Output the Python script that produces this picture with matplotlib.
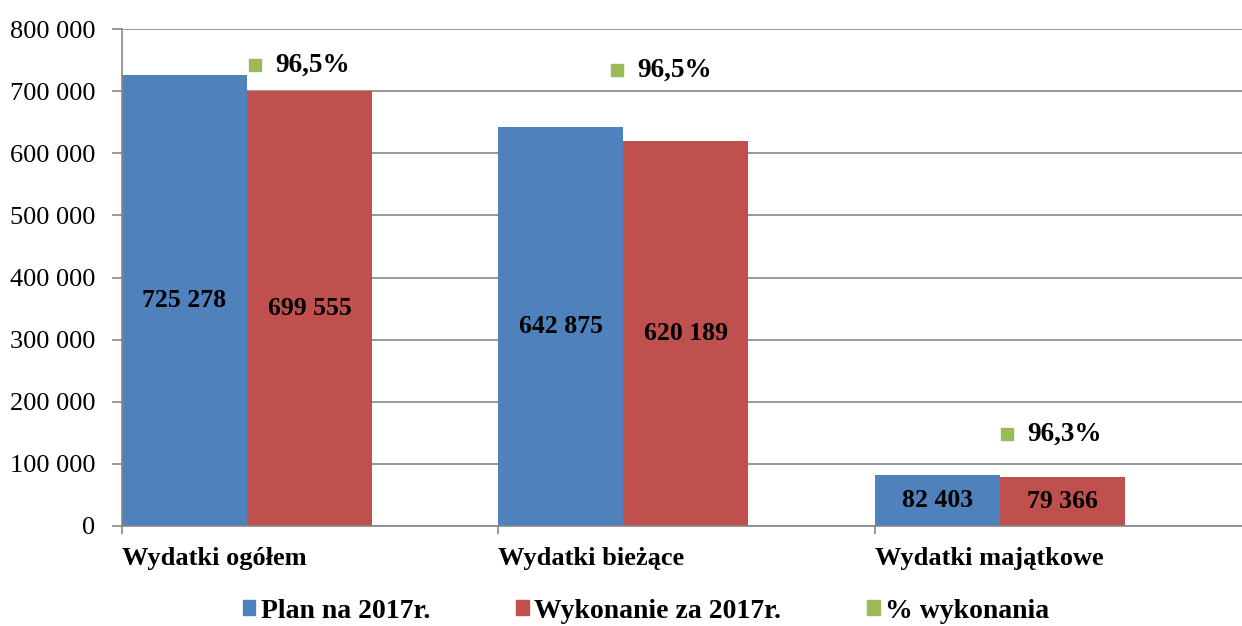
import numpy as np
import matplotlib.pyplot as plt
from matplotlib.patches import Patch

# --- data ---
categories = ['Wydatki ogółem', 'Wydatki bieżące', 'Wydatki majątkowe']
plan = [725278, 642875, 82403]
wykonanie = [699555, 620189, 79366]
procent = [96.5, 96.5, 96.3]
series_names = ['Plan na 2017r.', 'Wykonanie za 2017r.', '% wykonania']

BLUE = '#4F81BD'
RED = '#C0504D'
GREEN = '#9BBB59'
GRID = '#868686'


def fmt(v):
    return f'{v:,.0f}'.replace(',', ' ')


plt.rcParams['font.family'] = ['Liberation Serif', 'DejaVu Serif']

fig = plt.figure(figsize=(12.42, 6.26), dpi=100)
ax = fig.add_axes([122 / 1242, 100 / 626, 1120 / 1242, 497 / 626])

x = np.arange(len(categories))
w = 0.332
ax.bar(x, plan, width=w, align='edge', color=BLUE, zorder=2)
ax.bar(x + w, wykonanie, width=w, align='edge', color=RED, zorder=2)

# value labels inside bars
for i in range(len(categories)):
    ax.text(x[i] + w / 2, plan[i] / 2, fmt(plan[i]), ha='center', va='center',
            fontsize=18.5, fontweight='bold', zorder=3)
    ax.text(x[i] + 1.5 * w, wykonanie[i] / 2, fmt(wykonanie[i]), ha='center', va='center',
            fontsize=18.5, fontweight='bold', zorder=3)

# percent labels with legend key, placed by hand as in the original
label_dx = [0.021, -0.017, 0.019]
label_dy = [42000, 114000, 69000]
for i, p in enumerate(procent):
    lx = x[i] + w + label_dx[i]
    ly = wykonanie[i] + label_dy[i]
    ax.plot(lx, ly, 's', color=GREEN, markersize=9, zorder=3)
    ax.text(lx + 0.053, ly, f'{p:.1f}%'.replace('.', ','), ha='left', va='center',
            fontsize=19.5, fontweight='bold', zorder=3)

ax.set_ylim(0, 800000)
ax.set_xlim(0, 1120 / 376.5)
yt = np.arange(0, 800001, 100000)
ax.set_yticks(yt)
ax.set_yticklabels([fmt(v) for v in yt], fontsize=19)
ax.yaxis.grid(True, color=GRID, linewidth=1.2, zorder=0)
ax.set_axisbelow(True)

ax.set_xticks(x)
ax.set_xticklabels([])
for i, c in enumerate(categories):
    ax.text(x[i], -52000, c, ha='left', va='center', fontsize=19, fontweight='bold')
ax.tick_params(axis='x', length=6, color=GRID, width=1.2)
ax.tick_params(axis='y', length=7, color=GRID, width=1.2, pad=12)

for s in ['top', 'right']:
    ax.spines[s].set_visible(False)
for s in ['left', 'bottom']:
    ax.spines[s].set_color(GRID)
    ax.spines[s].set_linewidth(1.2)

handles = [Patch(color=BLUE), Patch(color=RED), Patch(color=GREEN)]
fig.legend(handles, series_names, loc='center', bbox_to_anchor=(646 / 1242, 1 - 611 / 626),
           ncol=3, frameon=False, prop={'size': 20, 'weight': 'bold'},
           handlelength=0.45, handleheight=0.45, handletextpad=0.2, columnspacing=3.1)

fig.savefig('out.png', dpi=100)
